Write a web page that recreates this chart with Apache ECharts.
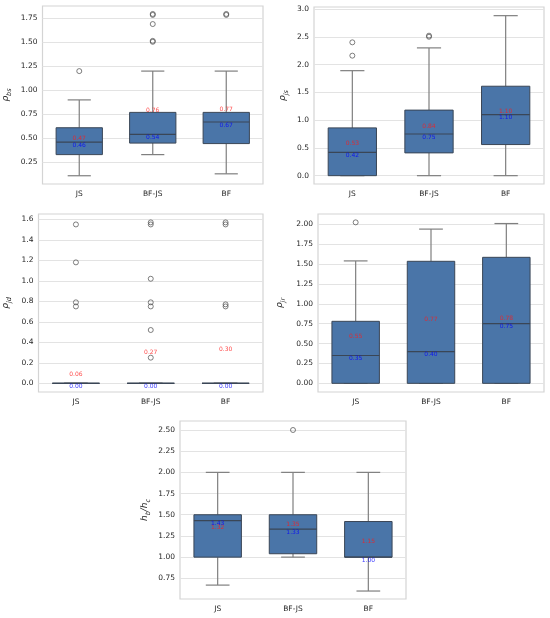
<!DOCTYPE html>
<html>
<head>
<meta charset="utf-8">
<script src="https://cdn.jsdelivr.net/npm/echarts@6/dist/echarts.min.js"></script>
<style>
  html, body { margin: 0; padding: 0; background: #fff; }
  #chart { width: 550px; height: 618px; }
</style>
</head>
<body>
<div id="chart"></div>
<script>
const categories = ["JS", "BF-JS", "BF"];

// [min, q1, median, q3, max] per category
const bsBox = [[0.11, 0.33, 0.46, 0.61, 0.90], [0.33, 0.45, 0.54, 0.77, 1.20], [0.13, 0.445, 0.67, 0.77, 1.20]];
const bsMean = [0.47, 0.76, 0.77];
const bsOut = [[0, 1.20], [1, 1.785], [1, 1.795], [1, 1.69], [1, 1.505], [1, 1.515], [2, 1.785], [2, 1.795]];
const bsTicks = [0.25, 0.5, 0.75, 1.0, 1.25, 1.5, 1.75];

const jsBox = [[0, 0, 0.42, 0.86, 1.89], [0, 0.41, 0.75, 1.18, 2.30], [0, 0.56, 1.10, 1.61, 2.88]];
const jsMean = [0.53, 0.84, 1.10];
const jsOut = [[0, 2.40], [0, 2.16], [1, 2.52], [1, 2.50]];
const jsTicks = [0, 0.5, 1.0, 1.5, 2.0, 2.5, 3.0];

const jdBox = [[0, 0, 0, 0, 0], [0, 0, 0, 0, 0], [0, 0, 0, 0, 0]];
const jdMean = [0.06, 0.27, 0.30];
const jdOut = [[0, 1.55], [0, 1.18], [0, 0.79], [0, 0.75],
  [1, 1.57], [1, 1.55], [1, 1.02], [1, 0.79], [1, 0.75], [1, 0.52], [1, 0.25],
  [2, 1.57], [2, 1.55], [2, 0.77], [2, 0.75]];
const jdTicks = [0, 0.2, 0.4, 0.6, 0.8, 1.0, 1.2, 1.4, 1.6];

const jrBox = [[0, 0, 0.35, 0.78, 1.54], [0, 0, 0.40, 1.535, 1.94], [0, 0, 0.75, 1.585, 2.01]];
const jrMean = [0.55, 0.77, 0.78];
const jrOut = [[0, 2.025]];
const jrTicks = [0, 0.25, 0.5, 0.75, 1.0, 1.25, 1.5, 1.75, 2.0];

const hbBox = [[0.67, 1.00, 1.43, 1.50, 2.00], [1.00, 1.04, 1.33, 1.50, 2.00], [0.60, 1.00, 1.00, 1.42, 2.00]];
const hbMean = [1.32, 1.35, 1.15];
const hbOut = [[1, 2.50]];
const hbTicks = [0.75, 1.0, 1.25, 1.5, 1.75, 2.0, 2.25, 2.5];

const BOX = "#4a75a8";
const EDGE = "#3a4656";
const WHISKER = "#7f7f7f";
const FONT = "DejaVu Sans";

const panels = [
  { box: bsBox, mean: bsMean, out: bsOut, ticks: bsTicks, dec: 2, min: 0.024, max: 1.878,
    name: "{r|ρ}{s|bs}", gap: 30, grid: { left: 36, top: 6, width: 227, height: 178 } },
  { box: jsBox, mean: jsMean, out: jsOut, ticks: jsTicks, dec: 1, min: -0.15, max: 3.036,
    name: "{r|ρ}{s|js}", gap: 24, grid: { left: 314, top: 7, width: 230, height: 177 } },
  { box: jdBox, mean: jdMean, out: jdOut, ticks: jdTicks, dec: 1, min: -0.085, max: 1.652,
    name: "{r|ρ}{s|jd}", gap: 26, grid: { left: 33, top: 214, width: 230, height: 178 } },
  { box: jrBox, mean: jrMean, out: jrOut, ticks: jrTicks, dec: 2, min: -0.109, max: 2.13,
    name: "{r|ρ}{s|jr}", gap: 31, grid: { left: 318, top: 214, width: 226, height: 178 } },
  { box: hbBox, mean: hbMean, out: hbOut, ticks: hbTicks, dec: 2, min: 0.506, max: 2.606,
    name: "{r|h}{s|b}{r|/h}{s|c}", gap: 28, grid: { left: 180, top: 421, width: 226, height: 178 } },
];

function renderBox(params, api) {
  const i = api.value(0);
  const lo = api.coord([i, api.value(1)]);
  const q1 = api.coord([i, api.value(2)]);
  const md = api.coord([i, api.value(3)]);
  const q3 = api.coord([i, api.value(4)]);
  const hi = api.coord([i, api.value(5)]);
  const band = api.size([1, 0])[0];
  const bw = band * 0.63;
  const cw = bw * 0.5;
  const x = md[0];
  const ws = { stroke: WHISKER, lineWidth: 1.2 };
  return {
    type: "group",
    children: [
      { type: "line", shape: { x1: x, y1: q3[1], x2: x, y2: hi[1] }, style: ws },
      { type: "line", shape: { x1: x, y1: q1[1], x2: x, y2: lo[1] }, style: ws },
      { type: "line", shape: { x1: x - cw / 2, y1: hi[1], x2: x + cw / 2, y2: hi[1] }, style: ws },
      { type: "line", shape: { x1: x - cw / 2, y1: lo[1], x2: x + cw / 2, y2: lo[1] }, style: ws },
      { type: "rect", shape: { x: x - bw / 2, y: q3[1], width: bw, height: q1[1] - q3[1] },
        style: { fill: BOX, stroke: EDGE, lineWidth: 1 } },
      { type: "line", shape: { x1: x - bw / 2, y1: md[1], x2: x + bw / 2, y2: md[1] },
        style: { stroke: EDGE, lineWidth: 1.2 } },
    ],
  };
}

const grid = [], xAxis = [], yAxis = [], series = [];

panels.forEach((p, k) => {
  grid.push(Object.assign({ show: true, borderColor: "#d4d4d4", borderWidth: 1.2, backgroundColor: "#fff" }, p.grid));
  xAxis.push({
    type: "category", gridIndex: k, data: categories, boundaryGap: true,
    axisLine: { show: false }, axisTick: { show: false }, splitLine: { show: false },
    axisLabel: { color: "#262626", fontSize: 7.5, fontFamily: FONT, margin: 6 },
  });
  yAxis.push({
    type: "value", gridIndex: k, min: p.min, max: p.max,
    axisLine: { show: false },
    axisTick: { show: false, customValues: p.ticks },
    splitLine: { show: true, lineStyle: { color: "#e3e3e3", width: 1 } },
    axisLabel: { customValues: p.ticks, color: "#262626", fontSize: 7.5, fontFamily: FONT, margin: 5,
      formatter: (v) => v.toFixed(p.dec) },
    name: p.name, nameLocation: "middle", nameRotate: 90, nameGap: p.gap,
    nameTextStyle: {
      rich: {
        r: { fontFamily: FONT, fontStyle: "italic", fontSize: 9, color: "#262626", lineHeight: 14, verticalAlign: "middle" },
        s: { fontFamily: FONT, fontStyle: "italic", fontSize: 6.5, color: "#262626", lineHeight: 14, verticalAlign: "bottom" },
      },
    },
  });
  series.push({
    type: "custom", xAxisIndex: k, yAxisIndex: k, renderItem: renderBox, z: 2,
    encode: { x: 0, y: [1, 2, 3, 4, 5] },
    data: p.box.map((b, i) => [i].concat(b)),
  });
  series.push({
    type: "scatter", xAxisIndex: k, yAxisIndex: k, z: 3, symbol: "circle", symbolSize: 5,
    itemStyle: { color: "rgba(255,255,255,0)", borderColor: "#4d4d4d", borderWidth: 0.9 },
    data: p.out,
  });
  series.push({
    type: "scatter", xAxisIndex: k, yAxisIndex: k, z: 4, symbolSize: 0, silent: true,
    label: { show: true, position: "top", distance: 0, color: "#ff1a1a", fontSize: 6, fontFamily: FONT,
      formatter: (d) => d.value[1].toFixed(2) },
    data: p.mean.map((m, i) => [i, m]),
  });
  series.push({
    type: "scatter", xAxisIndex: k, yAxisIndex: k, z: 4, symbolSize: 0, silent: true,
    label: { show: true, position: "bottom", distance: 0, color: "#0000ff", fontSize: 6, fontFamily: FONT,
      formatter: (d) => d.value[1].toFixed(2) },
    data: p.box.map((b, i) => [i, b[2]]),
  });
});

const chart = echarts.init(document.getElementById("chart"));
chart.setOption({ animation: false, backgroundColor: "#fff", grid, xAxis, yAxis, series });
</script>
</body>
</html>
